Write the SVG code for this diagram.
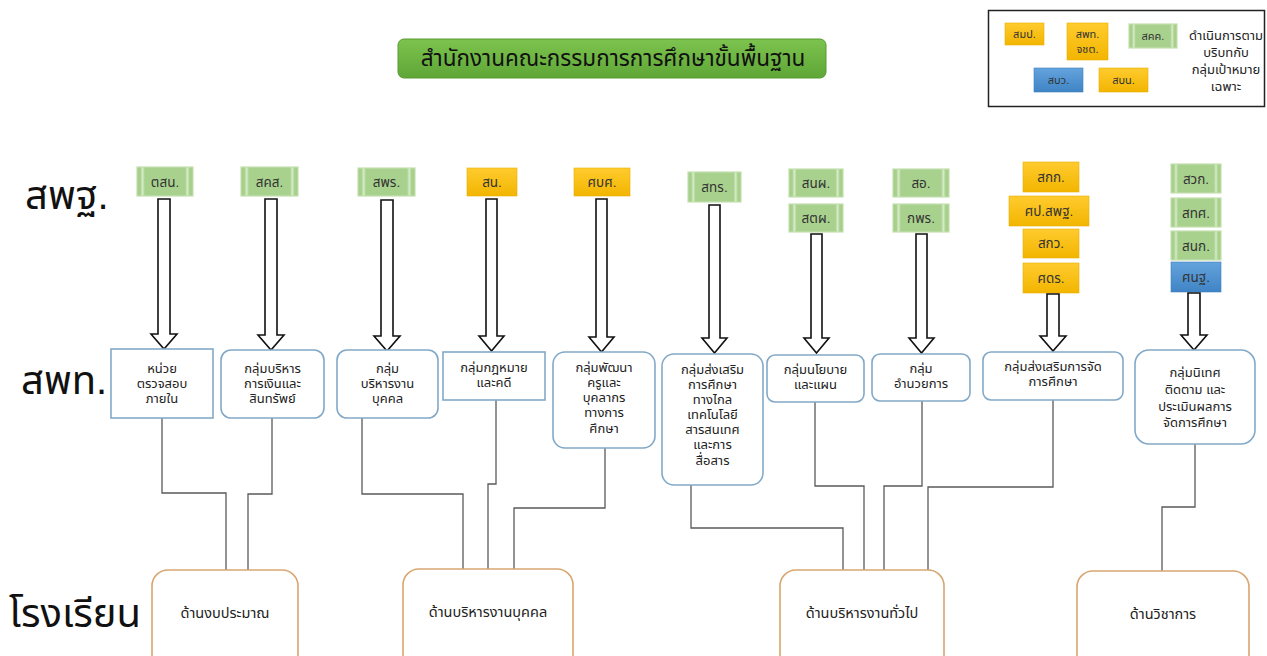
<svg xmlns="http://www.w3.org/2000/svg" width="1267" height="656" viewBox="0 0 1267 656">
<defs>
<linearGradient id="gGreen" x1="0" y1="0" x2="1" y2="0">
<stop offset="0" stop-color="#a3cd87"/><stop offset="0.06" stop-color="#a9d18e"/><stop offset="0.1" stop-color="#d6ecc8"/><stop offset="0.14" stop-color="#a9d18e"/>
<stop offset="0.86" stop-color="#a9d18e"/><stop offset="0.9" stop-color="#d6ecc8"/><stop offset="0.94" stop-color="#a9d18e"/><stop offset="1" stop-color="#a3cd87"/>
</linearGradient>
<linearGradient id="gYellow" x1="0" y1="0" x2="0" y2="1"><stop offset="0" stop-color="#ffcb2e"/><stop offset="1" stop-color="#f2b500"/></linearGradient>
<linearGradient id="gBlue" x1="0" y1="0" x2="0" y2="1"><stop offset="0" stop-color="#64a3dc"/><stop offset="1" stop-color="#3f84c6"/></linearGradient>
<linearGradient id="gTitle" x1="0" y1="0" x2="0" y2="1"><stop offset="0" stop-color="#7dc34f"/><stop offset="1" stop-color="#5ea636"/></linearGradient>
</defs>
<style>
text{font-family:"Liberation Sans","Noto Sans Thai","Noto Sans",sans-serif;fill:#222;text-anchor:middle}
.tg{fill:url(#gGreen);stroke:#c3e0b0;stroke-width:1.2}
.ty{fill:url(#gYellow);stroke:#e8b000;stroke-width:0.6}
.tb{fill:url(#gBlue);stroke:#3f7fbd;stroke-width:0.6}
.tt{font-size:13.5px;fill:#333}
.lt{font-size:11px;fill:#333}
.row{font-size:40px;text-anchor:start;fill:#111}
.mid{fill:#fff;stroke:#82a9c8;stroke-width:1.6}
.mt{font-size:13px;fill:#222}
.bot{fill:#fff;stroke:#d9a671;stroke-width:1.6}
.bt{font-size:14.5px;fill:#222}
.arr{fill:#fff;stroke:#111;stroke-width:1.6;stroke-linejoin:miter}
.con{fill:none;stroke:#5a5a5a;stroke-width:1.3}
</style>
<rect width="1267" height="656" fill="#fff"/>

<g id="title">
<rect x="398" y="39" width="428" height="39" rx="6" fill="url(#gTitle)" stroke="#5a9a33" stroke-width="1"/>
<text x="613" y="66" style="font-size:22.5px;fill:#111">สำนักงานคณะกรรมการการศึกษาขั้นพื้นฐาน</text>
</g>

<g id="legend">
<rect x="988.5" y="10.5" width="276" height="96" fill="#fff" stroke="#222" stroke-width="1.5"/>
<rect class="ty" x="1005" y="23" width="39" height="22"/><text class="lt" x="1024.5" y="38">สมป.</text>
<rect class="ty" x="1067" y="23" width="41" height="37"/><text class="lt" x="1087.5" y="38">สพท.</text><text class="lt" x="1087.5" y="53">จชต.</text>
<rect class="tg" x="1129" y="24" width="48" height="24"/><text class="lt" x="1153" y="40">สคค.</text>
<rect class="tb" x="1034" y="68" width="49" height="24"/><text class="lt" x="1058.5" y="84">สบว.</text>
<rect class="ty" x="1099" y="68" width="49" height="24"/><text class="lt" x="1123.5" y="84">สบน.</text>
<text x="1226" y="40" style="font-size:13px">ดำเนินการตาม</text>
<text x="1226" y="57" style="font-size:13px">บริบทกับ</text>
<text x="1226" y="74" style="font-size:13px">กลุ่มเป้าหมาย</text>
<text x="1226" y="91" style="font-size:13px">เฉพาะ</text>
</g>

<g id="row-labels">
<text class="row" x="25" y="209">สพฐ.</text>
<text class="row" x="21" y="394">สพท.</text>
<text class="row" x="9" y="627">โรงเรียน</text>
</g>

<g id="top-tags">
<g id="t-tsn"><rect class="tg" x="137" y="167" width="56" height="29"/><text class="tt" x="165" y="187">ตสน.</text></g>
<g id="t-skc"><rect class="tg" x="241" y="167" width="57" height="29"/><text class="tt" x="269.5" y="187">สคส.</text></g>
<g id="t-spr"><rect class="tg" x="358" y="168" width="57" height="28"/><text class="tt" x="386.5" y="187">สพร.</text></g>
<g id="t-sn"><rect class="ty" x="467" y="168" width="50" height="28"/><text class="tt" x="492" y="187">สน.</text></g>
<g id="t-sbs"><rect class="ty" x="574" y="168" width="56" height="28"/><text class="tt" x="602" y="187">ศบศ.</text></g>
<g id="t-str"><rect class="tg" x="688" y="172" width="53" height="30"/><text class="tt" x="714.5" y="192">สทร.</text></g>
<g id="t-snp"><rect class="tg" x="789" y="169" width="54" height="28"/><text class="tt" x="816" y="188">สนผ.</text></g>
<g id="t-stp"><rect class="tg" x="789" y="204" width="54" height="28"/><text class="tt" x="816" y="223">สตผ.</text></g>
<g id="t-so"><rect class="tg" x="893" y="169" width="56" height="28"/><text class="tt" x="921" y="188">สอ.</text></g>
<g id="t-kpr"><rect class="tg" x="893" y="204" width="56" height="28"/><text class="tt" x="921" y="223">กพร.</text></g>
<g id="t-skk"><rect class="ty" x="1023" y="162" width="56" height="30"/><text class="tt" x="1051" y="182">สกก.</text></g>
<g id="t-sps"><rect class="ty" x="1009" y="196" width="80" height="30"/><text class="tt" x="1049" y="216">ศป.สพฐ.</text></g>
<g id="t-skw"><rect class="ty" x="1023" y="229" width="56" height="29"/><text class="tt" x="1051" y="248">สกว.</text></g>
<g id="t-sdr"><rect class="ty" x="1023" y="263" width="56" height="30"/><text class="tt" x="1051" y="283">ศดร.</text></g>
<g id="t-swk"><rect class="tg" x="1171" y="164" width="50" height="29"/><text class="tt" x="1196" y="184">สวก.</text></g>
<g id="t-sts"><rect class="tg" x="1171" y="198" width="50" height="29"/><text class="tt" x="1196" y="218">สทศ.</text></g>
<g id="t-snk"><rect class="tg" x="1171" y="231" width="50" height="29"/><text class="tt" x="1196" y="251">สนก.</text></g>
<g id="t-snt"><rect class="tb" x="1171" y="262" width="50" height="30"/><text class="tt" x="1196" y="282">ศนฐ.</text></g>
</g>

<g id="arrows">
<path class="arr" d="M158 199H170V334H177L164 349L151 334H158Z"/>
<path class="arr" d="M265 199H277V335H284L271 350L258 335H265Z"/>
<path class="arr" d="M381 200H393V336H400L387 351L374 336H381Z"/>
<path class="arr" d="M486 199H497V336H504L491.5 351L479 336H486Z"/>
<path class="arr" d="M596 199H607V337H614L601.5 352L589 337H596Z"/>
<path class="arr" d="M709 205H720V338H727L714.5 353L702 338H709Z"/>
<path class="arr" d="M811 234H822V338H829L816.5 353L804 338H811Z"/>
<path class="arr" d="M916 234H927V338H934L921.5 353L909 338H916Z"/>
<path class="arr" d="M1047 294H1059V336H1066L1053 351L1040 336H1047Z"/>
<path class="arr" d="M1188 293H1200V335H1207L1194 350L1181 335H1188Z"/>
</g>

<g id="connectors">
<polyline class="con" points="162,418 162,493 226,493 226,571"/>
<polyline class="con" points="272,418 272,494 248,494 248,571"/>
<polyline class="con" points="362,418 362,494 463,494 463,570"/>
<polyline class="con" points="496,400 496,484 488,484 488,570"/>
<polyline class="con" points="605,448 605,508 514,508 514,570"/>
<polyline class="con" points="691,485 691,528 843,528 843,571"/>
<polyline class="con" points="815,402 815,486 864,486 864,571"/>
<polyline class="con" points="922,401 922,486 884,486 884,571"/>
<polyline class="con" points="1053,400 1053,487 928,487 928,571"/>
<polyline class="con" points="1195,444 1195,507 1162,507 1162,572"/>
</g>

<g id="m-audit"><rect class="mid" x="111" y="349" width="102" height="69"/><text class="mt" x="162" y="373">หน่วย</text><text class="mt" x="162" y="388">ตรวจสอบ</text><text class="mt" x="162" y="403">ภายใน</text></g>
<g id="m-finance"><rect class="mid" x="221" y="350" width="103" height="68" rx="10"/><text class="mt" x="272.5" y="373">กลุ่มบริหาร</text><text class="mt" x="272.5" y="388">การเงินและ</text><text class="mt" x="272.5" y="403">สินทรัพย์</text></g>
<g id="m-personnel"><rect class="mid" x="337" y="350" width="101" height="68" rx="10"/><text class="mt" x="387.5" y="373">กลุ่ม</text><text class="mt" x="387.5" y="388">บริหารงาน</text><text class="mt" x="387.5" y="403">บุคคล</text></g>
<g id="m-law"><rect class="mid" x="443" y="352" width="102" height="48"/><text class="mt" x="494" y="372">กลุ่มกฎหมาย</text><text class="mt" x="494" y="387">และคดี</text></g>
<g id="m-teacher"><rect class="mid" x="553" y="352" width="102" height="96" rx="12"/><text class="mt" x="604" y="372">กลุ่มพัฒนา</text><text class="mt" x="604" y="387">ครูและ</text><text class="mt" x="604" y="402">บุคลากร</text><text class="mt" x="604" y="417">ทางการ</text><text class="mt" x="604" y="433">ศึกษา</text></g>
<g id="m-distance"><rect class="mid" x="662" y="354" width="101" height="131" rx="12"/><text class="mt" x="712.5" y="374">กลุ่มส่งเสริม</text><text class="mt" x="712.5" y="389">การศึกษา</text><text class="mt" x="712.5" y="404">ทางไกล</text><text class="mt" x="712.5" y="419">เทคโนโลยี</text><text class="mt" x="712.5" y="434">สารสนเทศ</text><text class="mt" x="712.5" y="449">และการ</text><text class="mt" x="712.5" y="465">สื่อสาร</text></g>
<g id="m-policy"><rect class="mid" x="767" y="355" width="97" height="47" rx="8"/><text class="mt" x="815.5" y="374">กลุ่มนโยบาย</text><text class="mt" x="815.5" y="389">และแผน</text></g>
<g id="m-admin"><rect class="mid" x="872" y="354" width="98" height="47" rx="8"/><text class="mt" x="921" y="373">กลุ่ม</text><text class="mt" x="921" y="388">อำนวยการ</text></g>
<g id="m-promote"><rect class="mid" x="983" y="352" width="140" height="48" rx="8"/><text class="mt" x="1053" y="371">กลุ่มส่งเสริมการจัด</text><text class="mt" x="1053" y="386">การศึกษา</text></g>
<g id="m-supervision"><rect class="mid" x="1135" y="350" width="120" height="94" rx="14"/><text class="mt" x="1195" y="377">กลุ่มนิเทศ</text><text class="mt" x="1195" y="394">ติดตาม และ</text><text class="mt" x="1195" y="411">ประเมินผลการ</text><text class="mt" x="1195" y="427">จัดการศึกษา</text></g>

<g id="b-budget"><rect class="bot" x="152" y="570" width="146" height="120" rx="16"/><text class="bt" x="225" y="618">ด้านงบประมาณ</text></g>
<g id="b-personnel"><rect class="bot" x="403" y="569" width="170" height="120" rx="16"/><text class="bt" x="488" y="617">ด้านบริหารงานบุคคล</text></g>
<g id="b-general"><rect class="bot" x="780" y="570" width="164" height="120" rx="16"/><text class="bt" x="862" y="618">ด้านบริหารงานทั่วไป</text></g>
<g id="b-academic"><rect class="bot" x="1077" y="571" width="172" height="120" rx="16"/><text class="bt" x="1163" y="619">ด้านวิชาการ</text></g>
</svg>
